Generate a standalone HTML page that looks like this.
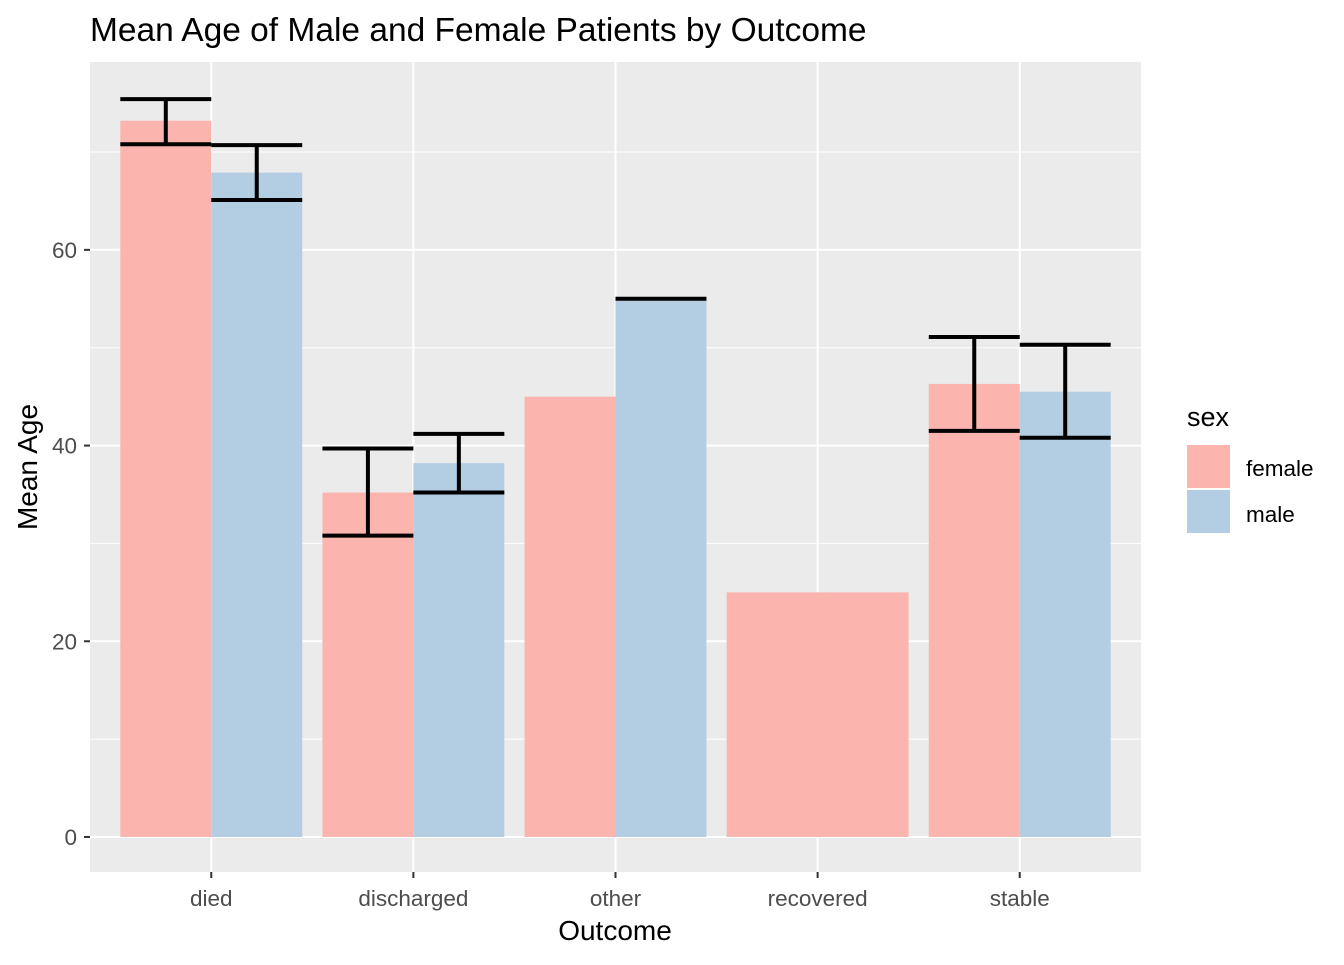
<!DOCTYPE html>
<html><head><meta charset="utf-8"><style>
body{margin:0;background:#fff;}
svg text{font-family:"Liberation Sans",Arial,sans-serif;}
</style></head><body>
<svg id="chart" width="1344" height="960" xmlns="http://www.w3.org/2000/svg">
<rect width="1344" height="960" fill="#fff"/>
<text x="90" y="41" font-size="33.5" fill="#000">Mean Age of Male and Female Patients by Outcome</text>
<rect x="90" y="62" width="1051" height="810" fill="#EBEBEB"/>
<g id="grid"></g><g id="bars"></g><g id="errs"></g><g id="axes"></g>
<text x="615" y="940" font-size="28" text-anchor="middle" fill="#000">Outcome</text>
<text transform="translate(37,467) rotate(-90)" font-size="28" text-anchor="middle" fill="#000">Mean Age</text>
<g>
<text x="1187" y="426" font-size="27" fill="#000">sex</text>
<rect x="1187" y="445" width="43" height="43" fill="#FBB4AE"/>
<rect x="1187" y="490" width="43" height="43" fill="#B3CDE3"/>
<text x="1246" y="476" font-size="22.5" fill="#000">female</text>
<text x="1246" y="522" font-size="22.5" fill="#000">male</text>
</g>
</svg>
<script>
const categories=["died","discharged","other","recovered","stable"];
const femaleMean=[73.2,35.2,45.0,25.0,46.3];
const femaleLow=[70.8,30.8,null,null,41.5];
const femaleHigh=[75.4,39.7,null,null,51.1];
const maleMean=[67.9,38.2,55.0,null,45.5];
const maleLow=[65.1,35.2,55.0,null,40.8];
const maleHigh=[70.7,41.2,55.0,null,50.3];
const yTicks=[0,20,40,60];
const yMinor=[10,30,50,70];
const NS="http://www.w3.org/2000/svg";
const px0=90,px1=1141,py0=62,py1=872,ymin=-3.58,ymax=79.2;
const y=v=>py1-(v-ymin)/(ymax-ymin)*(py1-py0);
const step=(px1-px0)/(categories.length+0.2);
const xc=i=>px0+step*(0.6+i);
const groupW=step*0.9;
function mk(tag,attrs,parent){const e=document.createElementNS(NS,tag);for(const k in attrs)e.setAttribute(k,attrs[k]);document.getElementById(parent).appendChild(e);return e;}
yMinor.forEach(v=>{const l=mk('line',{x1:px0,x2:px1,y1:y(v),y2:y(v),stroke:'#fff','stroke-width':1},'grid');

});
yTicks.forEach(v=>{const l=mk('line',{x1:px0,x2:px1,y1:y(v),y2:y(v),stroke:'#fff','stroke-width':2},'grid');


const t=mk('line',{x1:84,x2:90,y1:y(v),y2:y(v),stroke:'#333','stroke-width':2},'axes');


const tx=mk('text',{x:77,y:y(v)+8,'font-size':22.5,'text-anchor':'end',fill:'#4D4D4D'},'axes');tx.textContent=v;

});
categories.forEach((c,i)=>{const x=xc(i);
const g=mk('line',{x1:x,x2:x,y1:py0,y2:py1,stroke:'#fff','stroke-width':2},'grid');


const t=mk('line',{x1:x,x2:x,y1:py1,y2:py1+6,stroke:'#333','stroke-width':2},'axes');


const tx=mk('text',{x:x,y:906,'font-size':22.5,'text-anchor':'middle',fill:'#4D4D4D'},'axes');tx.textContent=c;


const hasF=femaleMean[i]!=null,hasM=maleMean[i]!=null;
const n=(hasF?1:0)+(hasM?1:0);const w=groupW/n;let k=0;
[[femaleMean,femaleLow,femaleHigh,'#FBB4AE','female'],[maleMean,maleLow,maleHigh,'#B3CDE3','male']].forEach(s=>{
const v=s[0][i];if(v==null)return;const left=x-groupW/2+k*w;k++;
const r=mk('rect',{x:left,y:y(v),width:w,height:y(0)-y(v),fill:s[3]},'bars');


const lo=s[1][i],hi=s[2][i];if(lo==null)return;const cx=left+w/2;
const p=mk('path',{d:`M${left},${y(hi)}H${left+w}M${cx},${y(hi)}V${y(lo)}M${left},${y(lo)}H${left+w}`,stroke:'#000','stroke-width':4,fill:'none'},'errs');

});});
</script>
</body></html>
